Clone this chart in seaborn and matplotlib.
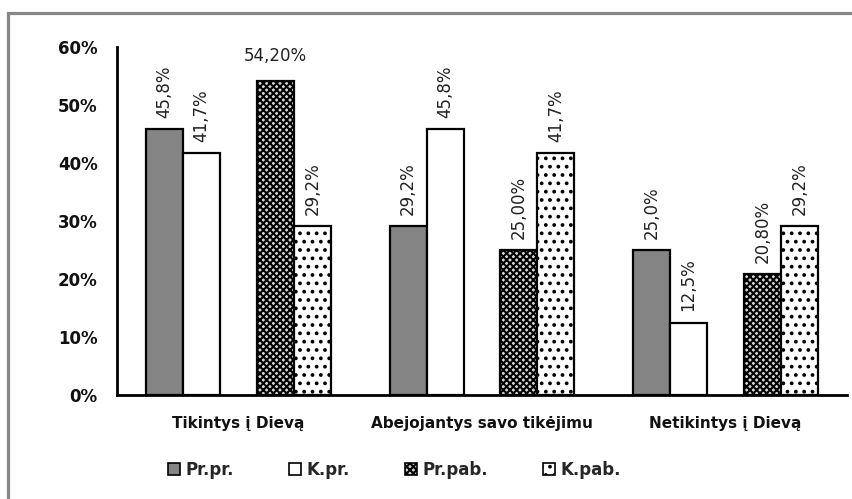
import matplotlib
matplotlib.use("Agg")
import matplotlib.pyplot as plt
import matplotlib.patches as mpatches
import seaborn as sns
import pandas as pd
import numpy as np

categories = ["Tikintys į Dievą", "Abejojantys savo tikėjimu", "Netikintys į Dievą"]
series = ["Pr.pr.", "K.pr.", "Pr.pab.", "K.pab."]
pr_pr = [45.8, 29.2, 25.0]
k_pr = [41.7, 45.8, 12.5]
pr_pab = [54.2, 25.0, 20.8]
k_pab = [29.2, 41.7, 29.2]
labels_pr_pr = ["45,8%", "29,2%", "25,0%"]
labels_k_pr = ["41,7%", "45,8%", "12,5%"]
labels_pr_pab = ["54,20%", "25,00%", "20,80%"]
labels_k_pab = ["29,2%", "41,7%", "29,2%"]
yticks = [0, 10, 20, 30, 40, 50, 60]
ytick_labels = ["0%", "10%", "20%", "30%", "40%", "50%", "60%"]

sns.set_style("white")
plt.rcParams["font.family"] = ["DejaVu Sans"]
plt.rcParams["hatch.linewidth"] = 1.5

gap = " "
values = {"Pr.pr.": pr_pr, "K.pr.": k_pr, gap: [0, 0, 0], "Pr.pab.": pr_pab, "K.pab.": k_pab}
hue_order = ["Pr.pr.", "K.pr.", gap, "Pr.pab.", "K.pab."]
rows = []
for h in hue_order:
    for c, v in zip(categories, values[h]):
        rows.append({"cat": c, "series": h, "val": v})
df = pd.DataFrame(rows)

fig = plt.figure(figsize=(8.53, 4.99), dpi=100)
ax = fig.add_axes([117 / 853, 1 - 395 / 499, (847 - 117) / 853, (395 - 47) / 499])

sns.barplot(data=df, x="cat", y="val", hue="series", hue_order=hue_order,
            order=categories, width=0.76, ax=ax, legend=False,
            palette=["white"] * 5, saturation=1)

styles = {
    "Pr.pr.": dict(facecolor="#848484", hatch=None),
    "K.pr.": dict(facecolor="white", hatch=None),
    "Pr.pab.": dict(facecolor="#d8d8d8", hatch="xxxxx"),
    "K.pab.": dict(facecolor="white", hatch=".."),
}
label_map = {"Pr.pr.": labels_pr_pr, "K.pr.": labels_k_pr,
             "Pr.pab.": labels_pr_pab, "K.pab.": labels_k_pab}

for h, cont in zip(hue_order, ax.containers):
    if h == gap:
        for p in cont:
            p.set_visible(False)
        continue
    st = styles[h]
    for i, p in enumerate(cont):
        p.set_facecolor(st["facecolor"])
        p.set_edgecolor("black")
        p.set_linewidth(1.6)
        if st["hatch"]:
            p.set_hatch(st["hatch"])
        cx = p.get_x() + p.get_width() / 2
        top = p.get_height()
        lab = label_map[h][i]
        if lab == "54,20%":
            ax.annotate(lab, (cx, top), xytext=(0, 11), textcoords="offset points",
                        ha="center", va="bottom", fontsize=12, color="#222222")
        else:
            ax.annotate(lab, (cx, top), xytext=(0, 8), textcoords="offset points",
                        ha="center", va="bottom", rotation=90, fontsize=12, color="#222222")

ax.set_ylim(0, 60)
ax.set_xlim(-0.5, 2.5)
ax.set_yticks(yticks)
ax.set_yticklabels(ytick_labels, fontsize=12, fontweight="bold", color="#111111")
ax.set_xticks([0, 1, 2])
ax.set_xticklabels(categories, fontsize=11, fontweight="bold", color="#111111")
ax.set_xticks([-0.5, 0.5, 1.5, 2.5], minor=True)
ax.tick_params(axis="x", which="major", length=0, pad=15)
ax.tick_params(axis="x", which="minor", length=7, width=2, direction="out", color="black")
ax.tick_params(axis="y", length=7, width=2, direction="out", color="black", pad=7)
ax.set_xlabel("")
ax.set_ylabel("")
for s in ["top", "right"]:
    ax.spines[s].set_visible(False)
for s in ["left", "bottom"]:
    ax.spines[s].set_linewidth(2)
    ax.spines[s].set_color("black")

handles = [mpatches.Patch(facecolor=styles[s]["facecolor"], edgecolor="black",
                          hatch=styles[s]["hatch"], linewidth=1.2) for s in series]
fig.legend(handles, series, loc="center", bbox_to_anchor=(395 / 853, 29 / 499),
           ncol=4, frameon=False, handlelength=0.7, handleheight=0.7,
           handletextpad=0.35, columnspacing=3.3,
           prop={"size": 12, "weight": "bold"})

frame = mpatches.Rectangle((8 / 853, -0.2), 1.2, 1.2 - 13 / 499, transform=fig.transFigure,
                           fill=False, edgecolor="#878787", linewidth=2.3)
fig.patches.append(frame)

fig.savefig("out.png", dpi=100)
